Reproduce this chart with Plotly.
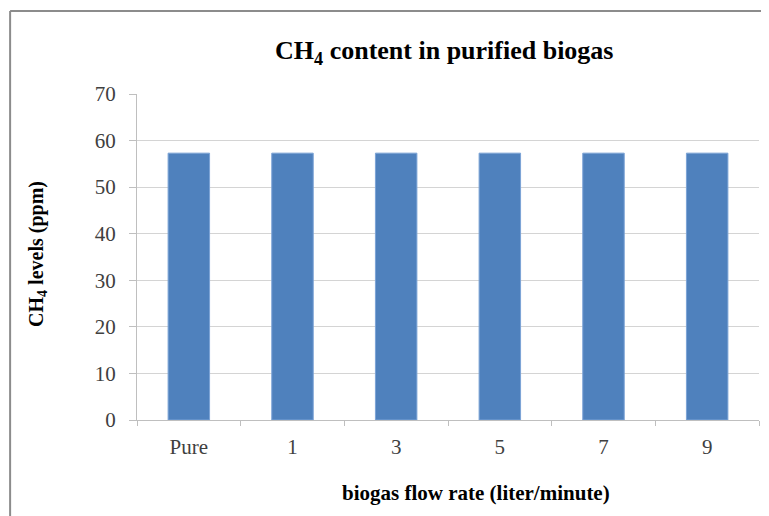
import plotly.graph_objects as go

categories = ["Pure", "1", "3", "5", "7", "9"]
ch4_levels = [57.3, 57.3, 57.3, 57.3, 57.3, 57.3]
y_ticks = [0, 10, 20, 30, 40, 50, 60, 70]

serif = "Liberation Serif, Times New Roman, serif"

fig = go.Figure(go.Bar(
    x=categories,
    y=ch4_levels,
    marker=dict(color="#4F81BD", line=dict(color="#7BA3D6", width=1)),
    width=0.4,
))

# page body adds 8px, so the figure is 8px smaller and margins shifted
fig.update_layout(
    width=761,
    height=508,
    margin=dict(l=129, r=10, t=86, b=96),
    paper_bgcolor="white",
    plot_bgcolor="white",
    showlegend=False,
    font=dict(family=serif, size=21, color="#404040"),
    title=dict(text="<b>CH<sub>4</sub> content in purified biogas</b>",
               xref="paper", x=0.494, xanchor="center",
               y=0.917, yanchor="middle",
               font=dict(family=serif, size=26, color="black")),
)

fig.update_yaxes(
    range=[0, 70], tickvals=y_ticks,
    showgrid=True, gridcolor="#D4D4D4", gridwidth=1,
    showline=True, linecolor="#BFBFBF", linewidth=1,
    ticks="outside", ticklen=7, tickcolor="#BFBFBF",
    ticklabelstandoff=9,
    zeroline=False,
)
fig.update_xaxes(
    showline=True, linecolor="#BFBFBF", linewidth=1,
    ticks="outside", ticklen=5, tickcolor="#BFBFBF",
    tickson="boundaries",
    ticklabelstandoff=8,
    showgrid=False,
)

# axis titles
fig.add_annotation(text="<b>biogas flow rate (liter/minute)</b>",
                   xref="paper", yref="paper", x=0.545, y=-0.224,
                   xanchor="center", yanchor="middle", showarrow=False,
                   font=dict(family=serif, size=21, color="black"))
fig.add_annotation(text="<b>CH<sub>4</sub> levels (ppm)</b>",
                   xref="paper", yref="paper", x=-0.161, y=0.509,
                   xanchor="center", yanchor="middle", showarrow=False,
                   textangle=-90,
                   font=dict(family=serif, size=20, color="black"))

# chart frame (top and left edges)
fig.add_shape(type="line", xref="paper", yref="paper",
              x0=-0.204, x1=1.1, y0=1.2546, y1=1.2546,
              line=dict(color="#8C8C8C", width=2))
fig.add_shape(type="line", xref="paper", yref="paper",
              x0=-0.204, x1=-0.204, y0=-0.4, y1=1.2546,
              line=dict(color="#8C8C8C", width=2))

fig.write_html("out.html")
